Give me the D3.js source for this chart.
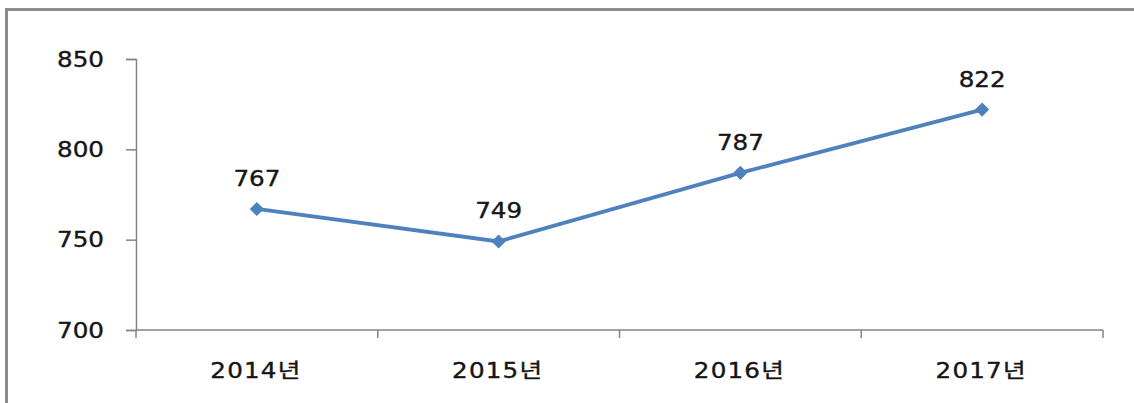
<!DOCTYPE html>
<html><head><meta charset="utf-8">
<script src="https://cdn.jsdelivr.net/npm/d3@7"></script>
<style>
html,body{margin:0;padding:0;background:#fff;}
text{font-family:"DejaVu Sans","Noto Sans CJK KR",sans-serif;fill:#151515;}
</style></head><body>
<svg id="c" width="1134" height="403"></svg>
<script>
const categories = ["2014년","2015년","2016년","2017년"];
const values = [767, 749, 787, 822];
const yTicks = [700, 750, 800, 850];

(function(){
const svg = d3.select("#c");
svg.append("path").attr("d","M6.5,420 V9.5 H1140").attr("fill","none").attr("stroke","#8c8c8c").attr("stroke-width",3);

const mL = 136, mR = 1103, mT = 59, mB = 330;
const x = d3.scaleBand().domain(categories).range([mL, mR]);
const y = d3.scaleLinear().domain([700, 850]).range([mB, mT]);

const SX = 1.2;
function wideText(parent, px, py, anchor, str, ls){
  parent.append("g").attr("transform",`translate(${px},${py}) scale(${SX},1)`)
    .append("text").attr("text-anchor",anchor)
    .style("font-size","20.5px").style("letter-spacing",ls)
    .attr("fill","#151515").attr("stroke","#151515").attr("stroke-width",0.35)
    .text(str);
}

const yAx = svg.append("g").attr("transform",`translate(${mL},0)`)
  .call(d3.axisLeft(y).tickValues(yTicks).tickSize(10).tickFormat(""));
yAx.select(".domain").attr("stroke","#868686").attr("stroke-width",1.5);
yAx.selectAll(".tick line").attr("stroke","#868686").attr("stroke-width",1.5);
yTicks.forEach(t => wideText(svg, mL - 32, y(t) + 7.5, "end", d3.format("d")(t), "0px"));

const xAx = svg.append("g").attr("transform",`translate(0,${mB})`);
xAx.append("line").attr("x1",mL).attr("x2",mR).attr("stroke","#868686").attr("stroke-width",1.5);
const bounds = categories.map(c => x(c)).concat([mR]);
xAx.selectAll("line.tk").data(bounds).enter().append("line").attr("class","tk")
  .attr("x1",d=>d).attr("x2",d=>d).attr("y1",0).attr("y2",8).attr("stroke","#868686").attr("stroke-width",1.5);
categories.forEach(c => wideText(svg, x(c)+x.bandwidth()/2 - 1, mB + 48, "middle", c, "1px"));

const pts = categories.map((c,i)=>({c, v: values[i]}));
const line = d3.line().x(d=>x(d.c)+x.bandwidth()/2).y(d=>y(d.v));
svg.append("path").datum(pts).attr("d",line).attr("fill","none").attr("stroke","#4f81bd").attr("stroke-width",3.8);
svg.selectAll("path.mk").data(pts).enter().append("path").attr("class","mk")
  .attr("d", d3.symbol().type(d3.symbolSquare).size(100))
  .attr("transform", d=>`translate(${x(d.c)+x.bandwidth()/2},${y(d.v)}) rotate(45)`)
  .attr("fill","#4f81bd");
pts.forEach(d => wideText(svg, x(d.c)+x.bandwidth()/2, y(d.v)-23, "middle", String(d.v), "0px"));
})();
</script></body></html>
